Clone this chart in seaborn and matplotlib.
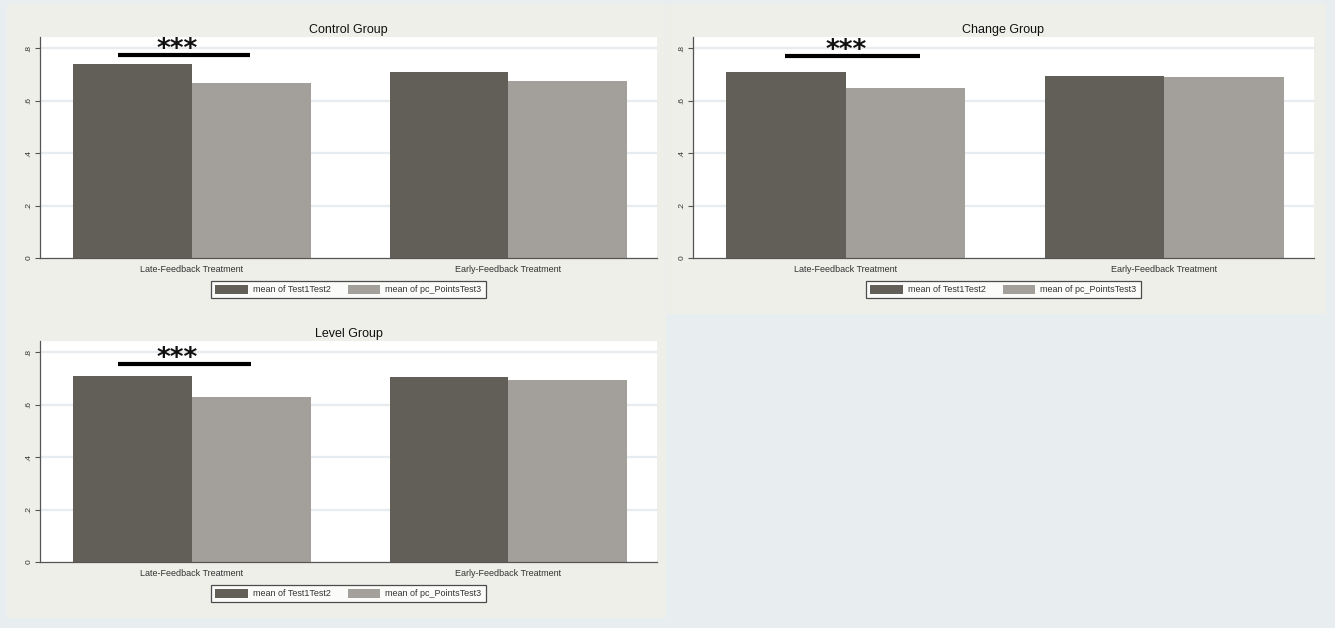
import numpy as np
import pandas as pd
import matplotlib
matplotlib.use("Agg")
import matplotlib.pyplot as plt
from matplotlib.patches import Rectangle, Patch
import seaborn as sns

# ---------------- data ----------------
groups = ["Control Group", "Change Group", "Level Group"]
treatments = ["Late-Feedback Treatment", "Early-Feedback Treatment"]
series = ["mean of Test1Test2", "mean of pc_PointsTest3"]
test1test2 = [[0.739, 0.711], [0.709, 0.696], [0.709, 0.707]]
pc_points_test3 = [[0.669, 0.675], [0.650, 0.689], [0.629, 0.695]]
y_ticks = [0, 0.2, 0.4, 0.6, 0.8]
y_tick_labels = ["0", ".2", ".4", ".6", ".8"]
sig_label = "***"

rows = []
for g, grp in enumerate(groups):
    for t, trt in enumerate(treatments):
        rows.append({"group": grp, "treatment": trt, "series": series[0], "value": test1test2[g][t]})
        rows.append({"group": grp, "treatment": trt, "series": series[1], "value": pc_points_test3[g][t]})
df = pd.DataFrame(rows)

# ---------------- style ----------------
sns.set_style("white")
plt.rcParams["font.family"] = ["Liberation Sans", "DejaVu Sans"]

W, H = 1335, 628
fig = plt.figure(figsize=(W / 100, H / 100), dpi=100)
fig.patch.set_facecolor("#e8eef0")

def frac_rect(x0, y0, x1, y1):
    # pixel coords (top-left origin) -> figure fraction
    return (x0 / W, 1 - y1 / H, (x1 - x0) / W, (y1 - y0) / H)

panel_bg = "#efefea"
for (x0, y0, x1, y1) in [(7, 4, 666, 618), (667, 4, 1326, 314)]:
    l, b, w, h = frac_rect(x0, y0, x1, y1)
    fig.patches.append(Rectangle((l, b), w, h, transform=fig.transFigure,
                                 facecolor=panel_bg, edgecolor="none", zorder=-10))

palette = {series[0]: "#625e58", series[1]: "#a39f9a"}

axes_px = {
    "Control Group": (40, 37, 657, 258),
    "Change Group": (693, 37, 1314, 258),
    "Level Group": (40, 341, 657, 562),
}
sig_lines = {
    "Control Group": (-0.233, 0.183, 0.774, -0.045),
    "Change Group": (-0.19, 0.232, 0.772, 0.0),
    "Level Group": (-0.235, 0.186, 0.756, -0.047),
}

for grp in groups:
    x0, y0, x1, y1 = axes_px[grp]
    ax = fig.add_axes(frac_rect(x0, y0, x1, y1))
    ax.set_zorder(5)
    ax.set_facecolor("white")
    sub = df[df["group"] == grp]
    sns.barplot(data=sub, x="treatment", y="value", hue="series", order=treatments,
                hue_order=series, palette=palette, width=0.75, linewidth=0,
                saturation=1, errorbar=None, ax=ax, zorder=2)
    ax.set_xlim(-0.48, 1.47)
    ax.set_ylim(0, 0.843)
    ax.set_yticks(y_ticks)
    ax.set_yticklabels(y_tick_labels, rotation=90, va="center", fontsize=6, color="#333333")
    ax.tick_params(axis="y", length=3.5, width=0.8, color="#555555", pad=2, left=True)
    ax.tick_params(axis="x", length=0, pad=5, labelsize=6.5, labelcolor="#333333")
    for yv in y_ticks[1:]:
        ax.axhline(yv, color="#e6ecef", lw=1.6, zorder=1)
    ax.set_xlabel("")
    ax.set_ylabel("")
    for s in ["top", "right"]:
        ax.spines[s].set_visible(False)
    for s in ["left", "bottom"]:
        ax.spines[s].set_color("#555555")
        ax.spines[s].set_linewidth(0.9)
    ax.set_title(grp, fontsize=9, pad=3, color="#111111")

    xa, xb, ys, xs = sig_lines[grp]
    ax.plot([xa, xb], [ys, ys], color="black", lw=3, solid_capstyle="butt", zorder=4)
    ax.annotate(sig_label, xy=(xs, ys), xytext=(0, -2), textcoords="offset pixels",
                ha="center", va="baseline", fontsize=19, fontweight="bold",
                family="DejaVu Sans", color="#111111", zorder=4)

    if ax.get_legend() is not None:
        ax.get_legend().remove()
    handles = [Patch(facecolor=palette[s], edgecolor="none") for s in series]
    leg = ax.legend(handles, series, loc="upper center", bbox_to_anchor=(0.5, -0.102),
                    ncol=2, frameon=True, fancybox=False, fontsize=6.5,
                    handlelength=3.6, handleheight=1.2, handletextpad=0.6,
                    columnspacing=1.8, borderpad=0.45, borderaxespad=0)
    leg.get_frame().set_edgecolor("#222222")
    leg.get_frame().set_linewidth(0.9)
    leg.get_frame().set_facecolor("white")
    for t in leg.get_texts():
        t.set_color("#333333")

fig.savefig("out.png", dpi=100, facecolor=fig.get_facecolor())
